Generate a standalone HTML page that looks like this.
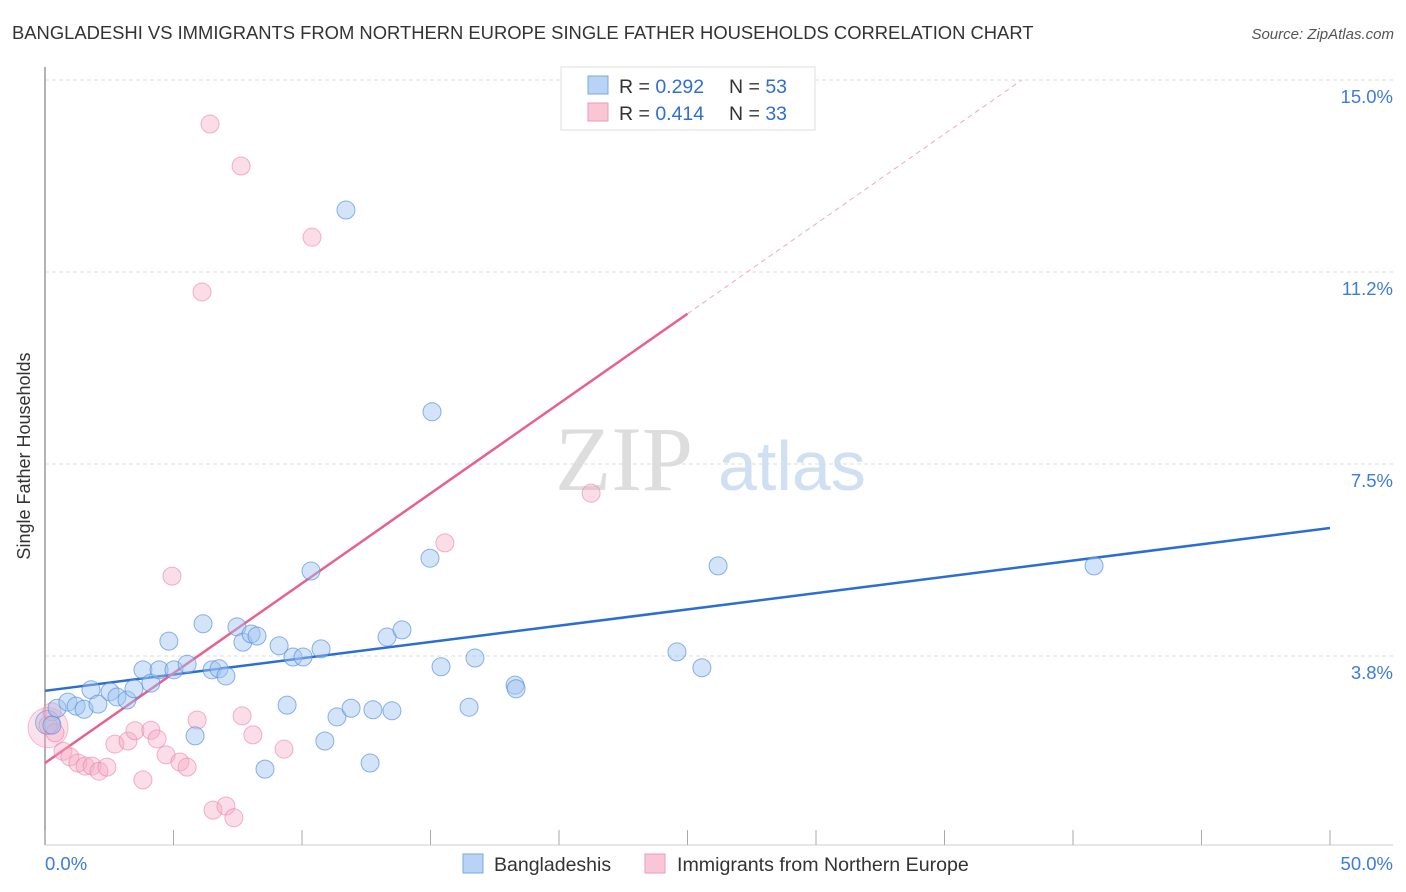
<!DOCTYPE html>
<html><head><meta charset="utf-8"><style>
body{margin:0;background:#fff;font-family:"Liberation Sans",sans-serif;}
svg{display:block}
</style></head><body>
<svg id="chart" width="1406" height="892" xmlns="http://www.w3.org/2000/svg">
<text x="12" y="39" font-size="18.4" fill="#333">BANGLADESHI VS IMMIGRANTS FROM NORTHERN EUROPE SINGLE FATHER HOUSEHOLDS CORRELATION CHART</text>
<text x="1394" y="39" font-size="15" fill="#555" font-style="italic" text-anchor="end">Source: ZipAtlas.com</text>
<g><text x="555" y="490" font-size="92" fill="#ddd" font-family="Liberation Serif, serif">ZIP</text><text x="718" y="490" font-size="70" fill="#cfe0f3">atlas</text></g>
<g id="grid"></g><g id="axes"></g><g id="trend"></g><g id="pts"></g>
<text x="30" y="456" font-size="18" fill="#333" text-anchor="middle" transform="rotate(-90 30 456)">Single Father Households</text>
<g>
<rect x="561" y="67" width="254" height="63" fill="#fff" stroke="#ddd"/>
<rect x="588" y="76" width="20" height="18" fill="#b8d3f5" stroke="#7aa8e0"/>
<rect x="588" y="103" width="20" height="18" fill="#f9c6d6" stroke="#ee9ab5"/>
<text x="619" y="93" font-size="19.5" fill="#333">R = <tspan fill="#2f6fd0">0.292</tspan></text>
<text x="729" y="93" font-size="19.5" fill="#333">N = <tspan fill="#2f6fd0">53</tspan></text>
<text x="619" y="120" font-size="19.5" fill="#333">R = <tspan fill="#2f6fd0">0.414</tspan></text>
<text x="729" y="120" font-size="19.5" fill="#333">N = <tspan fill="#2f6fd0">33</tspan></text>
</g>
<g>
<rect x="463" y="854" width="20" height="19" fill="#b8d3f5" stroke="#7aa8e0"/>
<text x="494" y="871" font-size="19.5" fill="#333">Bangladeshis</text>
<rect x="645" y="854" width="20" height="19" fill="#f9c6d6" stroke="#ee9ab5"/>
<text x="677" y="871" font-size="19.6" fill="#333">Immigrants from Northern Europe</text>
</g>
</svg>
<script>
const xTicks=[0,5,10,15,20,25,30,35,40,45,50];
const yTickValues=[3.75,7.5,11.25,15];
const yTickLabels=["3.8%","7.5%","11.2%","15.0%"];
const xEndLabels=["0.0%","50.0%"];
const blueX=[0.27,0.47,0.89,1.21,1.52,1.79,2.06,2.53,2.80,3.19,3.46,3.81,4.12,4.44,4.82,5.02,5.53,5.84,6.15,6.50,6.77,7.04,7.47,7.70,8.02,8.25,8.56,9.11,9.42,9.65,10.04,10.35,10.74,10.89,11.36,11.71,11.91,12.65,12.76,13.31,13.50,13.89,14.98,15.06,15.41,16.50,16.73,18.29,18.33,24.59,25.56,26.19,40.82];
const blueY=[2.40,2.73,2.85,2.77,2.71,3.09,2.81,3.05,2.95,2.89,3.11,3.48,3.22,3.48,4.04,3.48,3.59,2.19,4.38,3.48,3.50,3.36,4.32,4.02,4.18,4.14,1.54,3.95,2.79,3.73,3.73,5.41,3.89,2.09,2.56,12.46,2.73,1.66,2.70,4.12,2.68,4.26,5.66,8.52,3.54,2.75,3.71,3.18,3.11,3.83,3.52,5.51,5.51];
const pinkX=[0.12,0.27,0.39,0.70,0.97,1.28,1.56,1.83,2.10,2.41,2.72,3.23,3.50,3.81,4.12,4.36,4.71,4.94,5.25,5.53,5.92,6.11,6.42,6.54,7.04,7.35,7.63,7.67,8.09,9.30,10.39,15.56,21.25];
const pinkY=[2.40,2.66,2.25,1.89,1.78,1.66,1.60,1.60,1.50,1.58,2.03,2.09,2.29,1.33,2.30,2.13,1.82,5.31,1.68,1.58,2.50,10.86,14.14,0.74,0.82,0.59,13.32,2.58,2.21,1.93,11.93,5.96,6.93];
const blueTrend=[3.07,6.25];
const pinkTrend=[1.66,0.351];
const NS="http://www.w3.org/2000/svg";
const X=v=>45+v*25.7, Y=v=>80+(15-v)*51.2;
function mk(tag,attrs,parent){const e=document.createElementNS(NS,tag);for(const k in attrs)e.setAttribute(k,attrs[k]);parent.appendChild(e);return e;}
const grid=document.getElementById('grid'),axes=document.getElementById('axes'),trend=document.getElementById('trend'),pts=document.getElementById('pts');
yTickValues.forEach((v,i)=>{
 const l=mk('line',{x1:45,x2:1393,y1:Y(v),y2:Y(v),stroke:'#ddd','stroke-dasharray':'4,3'},grid);
 
 
 const t=mk('text',{x:1393,y:Y(v)+23,'font-size':18.5,fill:'#3d7be0','text-anchor':'end'},grid);
 t.textContent=yTickLabels[i];
 
 
});
const ax=mk('line',{x1:45,x2:45,y1:67,y2:845,stroke:'#999','stroke-width':1.5},axes);


const bx=mk('line',{x1:45,x2:1393,y1:845,y2:845,stroke:'#ccc'},axes);


xTicks.forEach(v=>{
 const t=mk('line',{x1:X(v),x2:X(v),y1:830,y2:845,stroke:'#aaa'},axes);
 
 
});
const xl0=mk('text',{x:45,y:870,'font-size':18.5,fill:'#3d7be0'},axes);xl0.textContent=xEndLabels[0];


const xl1=mk('text',{x:1393,y:870,'font-size':18.5,fill:'#3d7be0','text-anchor':'end'},axes);xl1.textContent=xEndLabels[1];


const bp=mk('circle',{cx:X(0.12),cy:Y(2.35),r:20,fill:'rgba(246,170,195,0.35)',stroke:'rgba(235,130,165,0.5)'},pts);


const bb=mk('circle',{cx:X(0.1),cy:Y(2.45),r:12,fill:'rgba(160,195,240,0.45)',stroke:'rgba(80,140,220,0.6)'},pts);


pinkX.forEach((x,i)=>{
 const c=mk('circle',{cx:X(x),cy:Y(pinkY[i]),r:9,fill:'rgba(246,170,195,0.4)',stroke:'rgba(235,130,165,0.6)'},pts);
 
 
});
blueX.forEach((x,i)=>{
 const c=mk('circle',{cx:X(x),cy:Y(blueY[i]),r:9,fill:'rgba(160,195,240,0.45)',stroke:'rgba(80,140,220,0.65)'},pts);
 
 
});
const bt=mk('line',{x1:X(0),y1:Y(blueTrend[0]),x2:X(50),y2:Y(blueTrend[1]),stroke:'#2a6dd6','stroke-width':2.5},trend);


const pEnd=25, pDash=(15-pinkTrend[0])/pinkTrend[1];
const pt=mk('line',{x1:X(0),y1:Y(pinkTrend[0]),x2:X(pEnd),y2:Y(pinkTrend[0]+pinkTrend[1]*pEnd),stroke:'#e8608c','stroke-width':2.5},trend);


const pd=mk('line',{x1:X(pEnd),y1:Y(pinkTrend[0]+pinkTrend[1]*pEnd),x2:X(pDash),y2:Y(15),stroke:'#f0a8bf','stroke-width':1,'stroke-dasharray':'5,4'},trend);


</script>
</body></html>
